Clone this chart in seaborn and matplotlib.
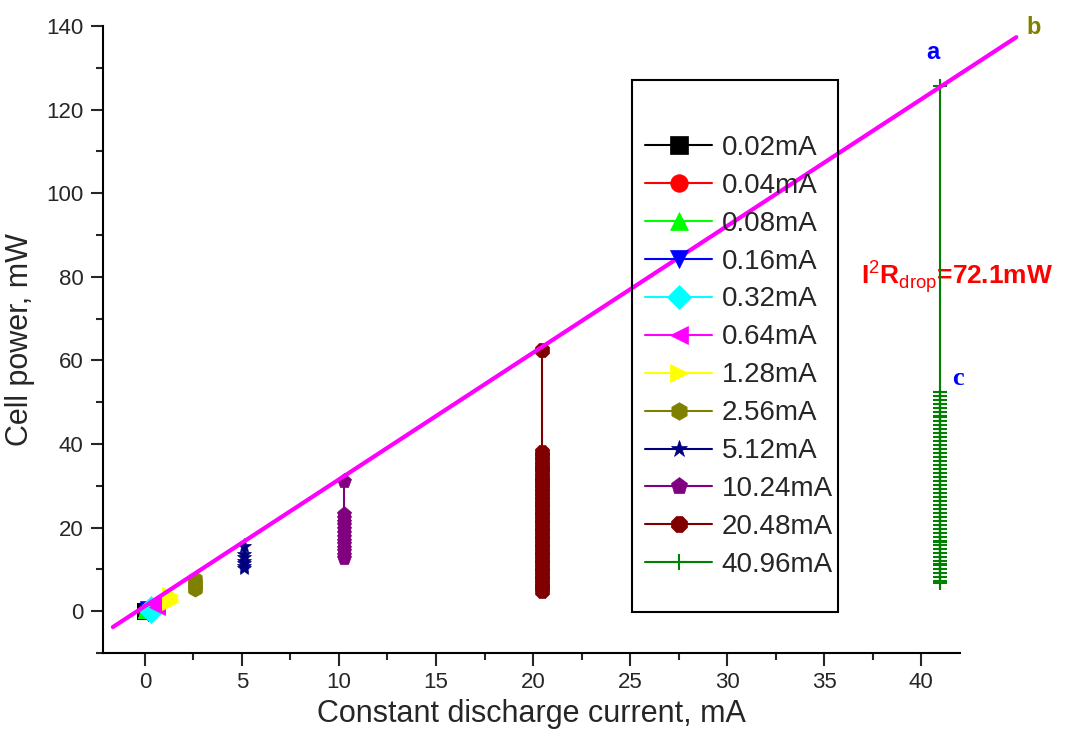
import matplotlib
matplotlib.use("Agg")
import matplotlib.pyplot as plt
import seaborn as sns
import pandas as pd
from matplotlib.patches import Rectangle

# discharge currents (mA) and the cell power readings (mW) for each run
currents = [0.02, 0.04, 0.08, 0.16, 0.32, 0.64, 1.28, 2.56, 5.12, 10.24, 20.48, 40.96]
labels = ['0.02mA', '0.04mA', '0.08mA', '0.16mA', '0.32mA', '0.64mA',
          '1.28mA', '2.56mA', '5.12mA', '10.24mA', '20.48mA', '40.96mA']

p_002 = [0.07, 0.06, 0.06, 0.05]
p_004 = [0.13, 0.12, 0.11, 0.10]
p_008 = [0.25, 0.24, 0.22, 0.20]
p_016 = [0.49, 0.3, 0.1, -0.4]
p_032 = [0.98, 0.5, 0.0, -0.3]
p_064 = [1.95, 1.7, 1.4, 1.1]
p_128 = [3.9, 3.4, 3.0, 2.6, 2.2]
p_256 = [7.8, 7.2, 6.6, 6.1, 5.6, 5.2]
p_512 = [15.6, 13.7, 12.9, 12.1, 11.5, 10.9, 10.3]
p_1024 = [31.2, 23.2, 22.3, 21.4, 20.6, 19.6, 18.8, 17.8, 16.9, 16.1, 15.1, 14.3, 13.5, 12.7]
p_2048 = [62.4, 38.0, 37.1, 36.1, 35.0, 34.2, 33.3, 32.2, 31.3, 30.5, 29.4, 28.6, 27.5,
          26.7, 25.6, 24.8, 23.7, 22.9, 21.8, 21.0, 19.9, 19.1, 18.0, 17.2, 16.1, 15.3,
          14.2, 13.4, 12.3, 11.5, 10.4, 9.6, 8.5, 7.7, 6.6, 5.8, 4.8]
p_4096 = [125.6, 52.4, 51.5, 50.5, 49.6, 48.6, 47.6, 46.8, 46.4, 45.5, 44.5, 43.6, 42.6,
          41.6, 40.7, 39.7, 38.8, 37.8, 36.9, 35.9, 34.9, 34.0, 33.0, 32.1, 31.1, 30.2,
          29.2, 28.2, 27.3, 26.3, 25.4, 24.4, 23.5, 22.5, 21.5, 20.6, 19.6, 18.7, 17.7,
          16.8, 16.5, 15.8, 14.9, 13.9, 13.0, 12.0, 11.3, 11.0, 10.1, 9.1, 8.2, 7.2, 6.7]
powers = [p_002, p_004, p_008, p_016, p_032, p_064, p_128, p_256, p_512, p_1024, p_2048, p_4096]

colors = ['#000000', '#ff0000', '#00ff00', '#0000ff', '#00ffff', '#ff00ff',
          '#ffff00', '#808000', '#000080', '#800080', '#800000', '#008000']
markers = ['s', 'o', '^', 'v', 'D', '<', '>', 'h', '*', 'p', '8', '+']

# linear power line (pink)
fit_x = [-1.65, 44.9]
fit_y = [-3.8, 137.3]

sns.set_style("ticks")
plt.rcParams["font.family"] = ["Liberation Sans", "DejaVu Sans"]
plt.rcParams["mathtext.fontset"] = "custom"
plt.rcParams["mathtext.rm"] = "Liberation Sans"
plt.rcParams["mathtext.bf"] = "Liberation Sans:bold"

fig = plt.figure(figsize=(10.76, 7.36), dpi=100)
ax = fig.add_axes([0.0957, 0.1128, 0.7965, 0.852])

for cur, pw, col, mk, lab in zip(currents, powers, colors, markers, labels):
    df = pd.DataFrame({'I': [cur] * len(pw), 'P': pw})
    sns.lineplot(data=df, x='I', y='P', ax=ax, estimator=None, sort=False,
                 color=col, marker=mk, markersize=11 if mk != '+' else 10,
                 markeredgecolor=col, markeredgewidth=1.5 if mk == '+' else 0.5,
                 linewidth=1.5, label=lab, zorder=3)

sns.lineplot(x=fit_x, y=fit_y, ax=ax, color='#ff00ff', linewidth=3,
             estimator=None, sort=False, zorder=5, clip_on=False, legend=False)

ax.set_xlim(-2.16, 42.0)
ax.set_ylim(-10, 140)
ax.set_xticks(range(0, 41, 5))
ax.set_xticks([2.5 + 5 * i for i in range(8)], minor=True)
ax.set_yticks(range(0, 141, 20))
ax.set_yticks([10 + 20 * i for i in range(7)] + [-10], minor=True)
ax.tick_params(axis='both', which='major', direction='out', length=9, width=1.5,
               labelsize=16, pad=5)
ax.tick_params(axis='both', which='minor', direction='out', length=5, width=1.5)
sns.despine(ax=ax)
for s in ['left', 'bottom']:
    ax.spines[s].set_linewidth(1.5)
    ax.spines[s].set_color('black')

ax.set_xlabel('Constant discharge current, mA', fontsize=22, labelpad=4)
ax.set_ylabel('Cell power, mW', fontsize=22, labelpad=8)

# legend with its own box
ax.add_patch(Rectangle((0.617, 0.065), 0.241, 0.849, transform=ax.transAxes,
                       fill=False, edgecolor='black', linewidth=1.5, zorder=6,
                       clip_on=False))
handles, labs = ax.get_legend_handles_labels()
leg = ax.legend(handles, labs, loc='center left', bbox_to_anchor=(0.62, 0.473),
                frameon=False, fontsize=20, handlelength=2.4, handletextpad=0.35,
                labelspacing=0.43, markerscale=1.15, borderaxespad=0)
leg.set_zorder(7)

ax.text(40.6, 132, 'a', color='#0000ff', fontsize=17, fontweight='bold', ha='center')
ax.text(45.8, 138, 'b', color='#808000', fontsize=17, fontweight='bold', ha='center',
        clip_on=False)
ax.text(41.6, 54, 'c', color='#0000ff', fontsize=19, fontweight='bold',
        family='Liberation Serif', ha='left')
ax.text(36.9, 80, r'$\mathbf{I}^{2}\mathbf{R}_{\mathrm{drop}}$=72.1mW', color='#ff0000',
        fontsize=19, fontweight='bold', ha='left', va='center', clip_on=False, zorder=2)

fig.savefig('out.png', dpi=100)
